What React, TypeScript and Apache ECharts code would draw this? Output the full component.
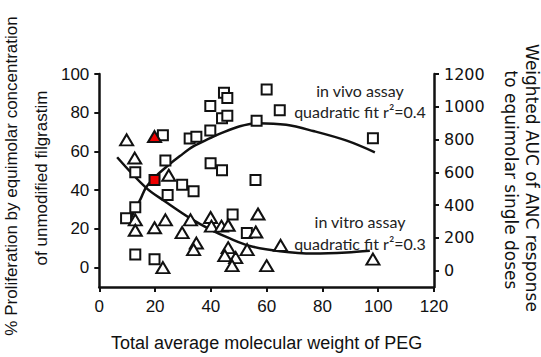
import React, { useEffect, useRef } from "react";
import * as echarts from "echarts";

// In vivo assay (squares, right axis: weighted AUC of ANC response)
const vivoX = [9.6, 12.9, 12.9, 12.9, 19.8, 22.8, 23.7, 24.5, 29.7, 33.8, 32.4, 34.8, 39.8, 39.8, 44, 45.9, 44.7, 45.9, 39.9, 44, 56.4, 56, 60, 64.7, 98.1, 47.8, 52.9];
const vivoY = [320, 386, 601, 99, 70, 826, 672, 462, 524, 484, 807, 817, 855, 1004, 930, 945, 1086, 1053, 656, 613, 914, 553, 1105, 978, 808, 343, 230];
const vivoHighlightX = [19.8];
const vivoHighlightY = [553];

// In vitro assay (triangles, left axis: % proliferation)
const vitroX = [9.8, 12.7, 24.9, 12.9, 12.9, 19.8, 23.7, 22.8, 29.7, 32.7, 34.8, 33.8, 39.9, 40.2, 43.8, 46.2, 56.1, 56.9, 46.2, 45, 48.9, 47.6, 53, 60, 65, 98.1];
const vitroY = [66, 56.6, 47.7, 24.7, 19.3, 20.6, 24.7, 0, 18.1, 24.7, 12.7, 9.3, 25.9, 21.4, 21.4, 21.9, 18.4, 27.7, 10.3, 6.2, 5.2, 1.0, 9.3, 1.0, 11.5, 4.4];
const vitroHighlightX = [19.8];
const vitroHighlightY = [67.7];

// Quadratic fit curves
const vivoFitX = [10.9, 14.9, 16.8, 20.4, 24.6, 28.9, 33.7, 39.7, 43.3, 50.4, 57, 67, 76.7, 88.7, 98.8];
const vivoFitY = [308, 441, 509, 578, 641, 699, 758, 808, 836, 881, 900, 890, 852, 793, 722];
const vitroFitX = [6.4, 16.8, 24, 32.5, 39.7, 46.6, 54, 64.8, 76.7, 88.7, 97];
const vitroFitY = [57, 41.2, 33.8, 25.6, 19.8, 15.2, 11.2, 8.5, 7.3, 7.8, 8.7];

const leftTicks = [0, 20, 40, 60, 80, 100];
const rightTicks = [0, 200, 400, 600, 800, 1000, 1200];

const xTitle = "Total average molecular weight of PEG";
const leftTitle = ["% Proliferation by equimolar concentration", "of unmodified filgrastim"];
const rightTitle = ["Weighted AUC of ANC response", "to equimolar single doses"];
const vivoNote = ["in vivo assay", "quadratic fit r\u00B2=0.4"];
const vitroNote = ["in vitro assay", "quadratic fit r\u00B2=0.3"];

const pairs = (xs: number[], ys: number[]) => xs.map((x, i) => [x, ys[i]]);

export default function App() {
  const ref = useRef<HTMLDivElement>(null);
  useEffect(() => {
    if (!ref.current) return;
    const chart = echarts.init(ref.current, null, { renderer: "svg" });
    const ink = "#111";
    const arial = "Liberation Sans, Arial, sans-serif";
    const verdana = "DejaVu Sans, Verdana, sans-serif";
    const calibri = "Lato, sans-serif";
    const axisLine = { show: true, onZero: false, lineStyle: { color: ink, width: 2.5 } };
    const axisTick = { show: true, inside: false, length: 5, lineStyle: { color: ink, width: 2 } };
    const plain = (v: number) => String(v);
    const noteText = (t: string, y: number) => ({
      type: "text", x: 360, y, style: { text: t, fill: "#222", font: `16px ${calibri}`, align: "center", verticalAlign: "middle" },
    });
    chart.setOption({
      animation: false,
      backgroundColor: "#fff",
      grid: { left: 99.3, right: 107, top: 74, bottom: 61.3, containLabel: false },
      xAxis: {
        type: "value", min: 0, max: 120, interval: 20,
        axisLine, axisTick,
        splitLine: { show: false },
        axisLabel: { color: ink, fontFamily: arial, fontSize: 17, margin: 11, formatter: plain },
        name: xTitle, nameLocation: "middle", nameGap: 47,
        nameTextStyle: { color: ink, fontFamily: arial, fontSize: 18 },
      },
      yAxis: [
        {
          type: "value", min: -10, max: 100, position: "left",
          axisLine, axisTick: { ...axisTick, customValues: leftTicks },
          splitLine: { show: false },
          axisLabel: { color: ink, fontFamily: arial, fontSize: 17, margin: 10, customValues: leftTicks, formatter: plain },
        },
        {
          type: "value", min: -100, max: 1200, position: "right",
          axisLine, axisTick: { ...axisTick, customValues: rightTicks },
          splitLine: { show: false },
          axisLabel: { color: ink, fontFamily: verdana, fontSize: 16, margin: 10, customValues: rightTicks, formatter: plain },
        },
      ],
      graphic: [
        { type: "text", x: 11, y: 176, rotation: Math.PI / 2, style: { text: leftTitle[0], fill: ink, font: `17px ${arial}`, align: "center", verticalAlign: "middle" } },
        { type: "text", x: 41, y: 178, rotation: Math.PI / 2, style: { text: leftTitle[1], fill: ink, font: `17px ${arial}`, align: "center", verticalAlign: "middle" } },
        { type: "text", x: 532, y: 178, rotation: -Math.PI / 2, style: { text: rightTitle[0], fill: ink, font: `17px ${verdana}`, align: "center", verticalAlign: "middle" } },
        { type: "text", x: 511, y: 180, rotation: -Math.PI / 2, style: { text: rightTitle[1], fill: ink, font: `17px ${verdana}`, align: "center", verticalAlign: "middle" } },
        noteText(vivoNote[0], 90),
        noteText(vivoNote[1], 111.7),
        noteText(vitroNote[0], 221.7),
        noteText(vitroNote[1], 243.3),
      ],
      series: [
        {
          name: "in vivo fit", type: "line", yAxisIndex: 1, smooth: 0.35, showSymbol: false, symbol: "none",
          data: pairs(vivoFitX, vivoFitY), lineStyle: { color: ink, width: 2.5 }, z: 2,
        },
        {
          name: "in vitro fit", type: "line", yAxisIndex: 0, smooth: 0.35, showSymbol: false, symbol: "none",
          data: pairs(vitroFitX, vitroFitY), lineStyle: { color: ink, width: 2.5 }, z: 2,
        },
        {
          name: "in vivo", type: "scatter", yAxisIndex: 1, symbol: "rect", symbolSize: 10,
          data: pairs(vivoX, vivoY), itemStyle: { color: "#fff", borderColor: ink, borderWidth: 2, opacity: 1 }, z: 3,
        },
        {
          name: "in vitro", type: "scatter", yAxisIndex: 0, symbol: "triangle", symbolSize: [13, 11],
          data: pairs(vitroX, vitroY), itemStyle: { color: "#fff", borderColor: ink, borderWidth: 2, opacity: 1 }, z: 3,
        },
        {
          name: "in vivo highlighted", type: "scatter", yAxisIndex: 1, symbol: "rect", symbolSize: 10,
          data: pairs(vivoHighlightX, vivoHighlightY), itemStyle: { color: "#f00000", borderColor: ink, borderWidth: 2, opacity: 1 }, z: 4,
        },
        {
          name: "in vitro highlighted", type: "scatter", yAxisIndex: 0, symbol: "triangle", symbolSize: [13, 11],
          data: pairs(vitroHighlightX, vitroHighlightY), itemStyle: { color: "#f00000", borderColor: ink, borderWidth: 2, opacity: 1 }, z: 4,
        },
      ],
    });
    return () => chart.dispose();
  }, []);
  return <div ref={ref} style={{ position: "fixed", left: 0, top: 0, width: 541, height: 357 }} />;
}
